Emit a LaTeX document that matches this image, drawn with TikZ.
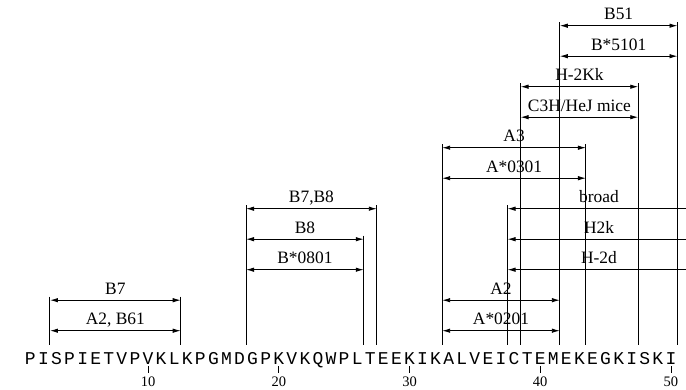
\documentclass[tikz,border=0pt]{standalone}
\usepackage{fontspec}
\setmainfont{Liberation Serif}
\newfontfamily\seqfont{Liberation Mono}
\usetikzlibrary{arrows.meta}
\begin{document}
\begin{tikzpicture}[x=1pt,y=-1pt,
  vline/.style={line width=1pt, black},
  dim/.style={line width=0.9pt, {Latex[length=8pt,width=4.5pt]}-{Latex[length=8pt,width=4.5pt]}},
  ldim/.style={line width=0.9pt, {Latex[length=8pt,width=4.5pt]}-},
  lab/.style={font=\fontsize{17.4}{18}\selectfont, anchor=base, inner sep=0pt},
  seqc/.style={font=\seqfont\fontsize{18}{18}\selectfont, anchor=base, inner sep=0pt},
  ticklab/.style={font=\fontsize{14.5}{15}\selectfont, anchor=base, inner sep=0pt},
  tickline/.style={line width=0.8pt},
]
\useasboundingbox (0,0) rectangle (686,390);
\clip (0,0) rectangle (686,390);

% sequence
\foreach \c [count=\i] in {P,I,S,P,I,E,T,V,P,V,K,L,K,P,G,M,D,G,P,K,V,K,Q,W,P,L,T,E,E,K,I,K,A,L,V,E,I,C,T,E,M,E,K,E,G,K,I,S,K,I}
  \node[seqc] (s\i) at ({17.31+13.073*\i},364.3) {\c};

% ticks
\coordinate (tt) at (0,366);
\coordinate (tb) at (0,373.3);
\coordinate (tl) at (0,386.7);
\foreach \i in {10,20,30,40,50} {
  \draw[tickline] (s\i |- tt) -- (s\i |- tb);
  \node[ticklab] (n\i) at (s\i |- tl) {\i};
}

% vertical lines
\foreach \k/\t in {2/296.7, 12/296.7, 17/205.2, 26/235.7, 27/205.2, 32/144.2, 37/205.2, 38/83.2, 41/22.2, 43/144.2, 47/83.2, 50/22.2} {
  \coordinate (t\k) at ({23.85+13.073*\k},\t);
  \coordinate (u\k) at ({23.85+13.073*\k},345.5);
  \draw[vline] (t\k) -- (u\k);
}

% rows
\foreach \n in {1,...,11}
  \coordinate (r\n) at (0,{25.7+30.5*(\n-1)});
\coordinate (ext) at (692,0);

% brackets
\draw[dim] (t41 |- r1) -- node[lab, midway, yshift=6pt] {B51} (t50 |- r1);
\draw[dim] (t41 |- r2) -- node[lab, midway, yshift=6pt] {B*5101} (t50 |- r2);
\draw[dim] (t38 |- r3) -- node[lab, midway, yshift=6pt] {H-2Kk} (t47 |- r3);
\draw[dim] (t38 |- r4) -- node[lab, midway, yshift=6pt] {C3H/HeJ mice} (t47 |- r4);
\draw[dim] (t32 |- r5) -- node[lab, midway, yshift=6pt] {A3} (t43 |- r5);
\draw[dim] (t32 |- r6) -- node[lab, midway, yshift=6pt] {A*0301} (t43 |- r6);
\draw[ldim] (t37 |- r7) -- (ext |- r7);
\draw[ldim] (t37 |- r8) -- (ext |- r8);
\draw[ldim] (t37 |- r9) -- (ext |- r9);
\node[lab] (lbroad) at ([yshift=6pt]599,208.7) {broad};
\node[lab] (lh2k) at ([yshift=6pt]599,239.2) {H2k};
\node[lab] (lh2d) at ([yshift=6pt]599,269.7) {H-2d};
\draw[dim] (t32 |- r10) -- node[lab, midway, yshift=6pt] {A2} (t41 |- r10);
\draw[dim] (t32 |- r11) -- node[lab, midway, yshift=6pt] {A*0201} (t41 |- r11);

\draw[dim] (t17 |- r7) -- node[lab, midway, yshift=6pt] {B7,B8} (t27 |- r7);
\draw[dim] (t17 |- r8) -- node[lab, midway, yshift=6pt] {B8} (t26 |- r8);
\draw[dim] (t17 |- r9) -- node[lab, midway, yshift=6pt] {B*0801} (t26 |- r9);
\draw[dim] (t2 |- r10) -- node[lab, midway, yshift=6pt] {B7} (t12 |- r10);
\draw[dim] (t2 |- r11) -- node[lab, midway, yshift=6pt] {A2, B61} (t12 |- r11);
\end{tikzpicture}
\end{document}
